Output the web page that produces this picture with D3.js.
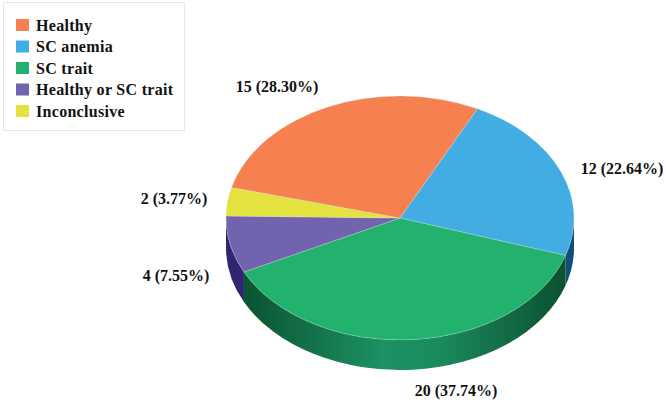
<!DOCTYPE html>
<html><head><meta charset="utf-8">
<script src="https://cdn.jsdelivr.net/npm/d3@7"></script>
<style>html,body{margin:0;padding:0;background:#fff}svg{display:block}text{font-family:"Liberation Serif",serif;font-weight:bold;fill:#111}</style>
</head><body><svg id="c" width="666" height="403"></svg>
<script>
const categories = ["Healthy","SC anemia","SC trait","Healthy or SC trait","Inconclusive"];
const values = [15,12,20,4,2];
const percents = ["28.30","22.64","37.74","7.55","3.77"];
const colors = ["#f68050","#42ade2","#22b26e","#7263ae","#e3e23e"];
const labelAnchors = [[277,92],[622,174],[456,396],[176,281],[174,204]];

const cx=400, cy=218, rx=174, ry=122, depth=30;
const start=26.4*Math.PI/180;
const svg=d3.select("#c");
const order=[1,2,3,4,0];
const pie=d3.pie().sort(null).startAngle(start).endAngle(start+2*Math.PI).value(i=>values[i]);
const arcs=pie(order);
const arc=d3.arc().innerRadius(0).outerRadius(rx);
const yk=ry/rx;
const px=a=>cx+rx*Math.sin(a), py=a=>cy-ry*Math.cos(a);

const defs=svg.append("defs");
const grad=defs.append("linearGradient").attr("id","gs").attr("gradientUnits","userSpaceOnUse")
 .attr("x1",cx-rx).attr("x2",cx+rx).attr("y1",0).attr("y2",0);
grad.append("stop").attr("offset","0.05").attr("stop-color","#0b5330");
grad.append("stop").attr("offset","0.45").attr("stop-color","#1c9163");
grad.append("stop").attr("offset","0.62").attr("stop-color","#1a8a5c");
grad.append("stop").attr("offset","0.8").attr("stop-color","#136c45");
grad.append("stop").attr("offset","0.97").attr("stop-color","#0b5230");

arcs.forEach(d=>{
  const a0=Math.max(d.startAngle,Math.PI/2), a1=Math.min(d.endAngle,3*Math.PI/2);
  if(a1<=a0) return;
  const large=(a1-a0)>Math.PI?1:0;
  const p=`M${px(a0)},${py(a0)}A${rx},${ry} 0 ${large} 1 ${px(a1)},${py(a1)}`+
    `L${px(a1)},${py(a1)+depth}A${rx},${ry} 0 ${large} 0 ${px(a0)},${py(a0)+depth}Z`;
  svg.append("path").attr("d",p).attr("fill",d.data===2?"url(#gs)":(d.data===1?"#0e4f7c":"#2e2670"));
});
svg.append("g").attr("transform",`translate(${cx},${cy}) scale(1,${yk})`)
 .selectAll("path").data(arcs).join("path").attr("d",arc)
 .attr("fill",d=>colors[d.data]).attr("stroke","#d9e4dc").attr("stroke-width",0.5).attr("stroke-opacity",.7);

svg.append("g").selectAll("text").data(d3.range(values.length)).join("text")
 .attr("x",i=>labelAnchors[i][0]).attr("y",i=>labelAnchors[i][1])
 .attr("text-anchor","middle").attr("font-size",16)
 .text(i=>`${values[i]} (${percents[i]}%)`);

svg.append("rect").attr("x",3.5).attr("y",2.5).attr("width",181).attr("height",128)
 .attr("fill","#fff").attr("stroke","#e6e6e6");
const ly=d3.scalePoint().domain(d3.range(categories.length)).range([19,105]);
const lg=svg.append("g").selectAll("g").data(d3.range(categories.length)).join("g")
 .attr("transform",i=>`translate(16,${ly(i)})`);
lg.append("rect").attr("width",13).attr("height",12).attr("fill",i=>colors[i]);
lg.append("text").attr("x",20).attr("y",11.5).attr("font-size",16).attr("letter-spacing",0.3).text(i=>categories[i]);
</script></body></html>
